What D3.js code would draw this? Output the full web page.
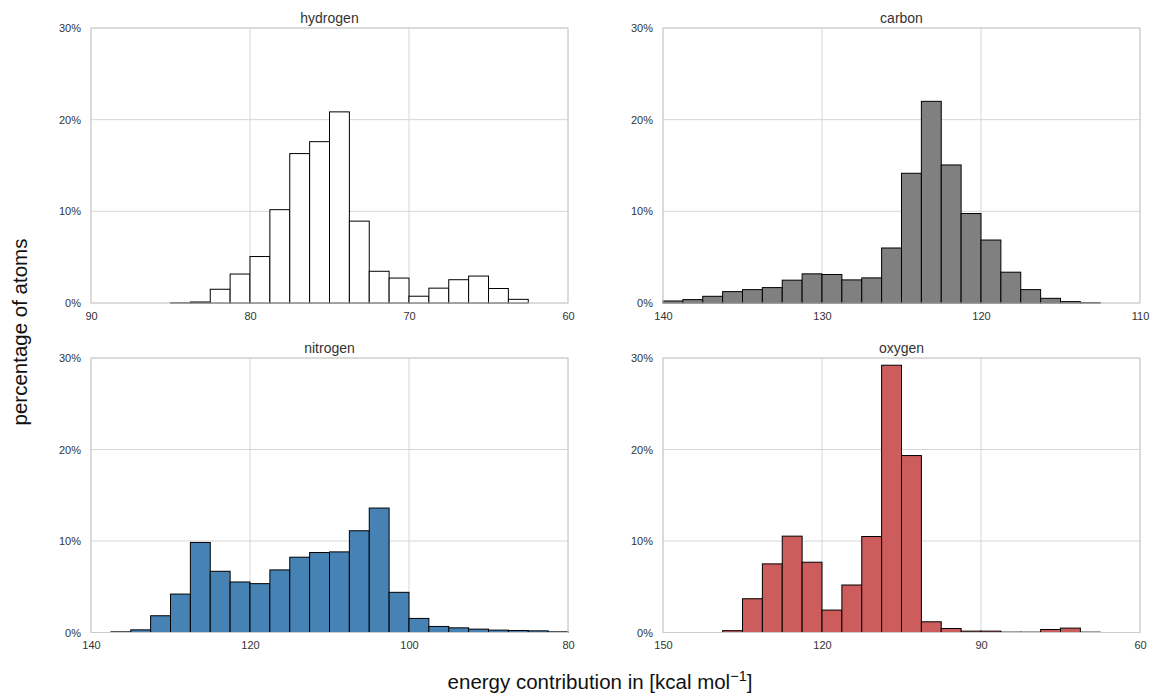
<!DOCTYPE html>
<html>
<head>
<meta charset="utf-8">
<script src="https://cdn.jsdelivr.net/npm/d3@7"></script>
<style>
  html, body { margin: 0; padding: 0; background: #fff; }
  svg { display: block; font-family: "Liberation Sans", Arial, Helvetica, sans-serif; }
</style>
</head>
<body>
<svg id="chart" width="1155" height="696"></svg>
<script>
// ---------- data ----------
const elements = ["hydrogen", "carbon", "nitrogen", "oxygen"];
const xDomains = [[90, 60], [140, 110], [140, 80], [150, 60]];
const xTickValues = [[90, 80, 70, 60], [140, 130, 120, 110], [140, 120, 100, 80], [150, 120, 90, 60]];
const yTickValues = [0, 10, 20, 30];
const binStarts = [85, 140, 137.5, 138.75];
const binWidths = [1.25, 1.25, 2.5, 3.75];

const hydrogenPct = [0.02, 0.11, 1.5, 3.16, 5.07, 10.18, 16.3, 17.6, 20.85, 8.93, 3.46, 2.72, 0.74, 1.62, 2.54, 2.94, 1.58, 0.40];
const carbonPct = [0.22, 0.37, 0.73, 1.24, 1.46, 1.68, 2.49, 3.18, 3.11, 2.52, 2.74, 6.0, 14.15, 22.0, 15.06, 9.76, 6.87, 3.36, 1.46, 0.51, 0.15, 0.03];
const nitrogenPct = [0.07, 0.29, 1.83, 4.2, 9.84, 6.69, 5.52, 5.34, 6.84, 8.23, 8.74, 8.81, 11.12, 13.6, 4.39, 1.54, 0.66, 0.51, 0.37, 0.26, 0.22, 0.18, 0.07];
const oxygenPct = [0.2, 3.69, 7.5, 10.53, 7.68, 2.45, 5.19, 10.49, 29.21, 19.34, 1.17, 0.44, 0.15, 0.15, 0.04, 0.04, 0.33, 0.48, 0.04];
const seriesPct = [hydrogenPct, carbonPct, nitrogenPct, oxygenPct];
const fillColors = ["#ffffff", "#808080", "#4682b4", "#cd5c5c"];

// ---------- layout ----------
const panelBoxes = [
  { x0: 91, x1: 568, y0: 28, y1: 303 },
  { x0: 663, x1: 1140, y0: 28, y1: 303 },
  { x0: 91, x1: 568, y0: 358, y1: 632.5 },
  { x0: 663, x1: 1140, y0: 358, y1: 632.5 }
];

const svg = d3.select("#chart");
const textColor = "#333333";

elements.forEach((name, i) => {
  const b = panelBoxes[i];
  const x = d3.scaleLinear().domain(xDomains[i]).range([b.x0, b.x1]);
  const y = d3.scaleLinear().domain([0, 30]).range([b.y1, b.y0]);
  const g = svg.append("g");

  // grid
  g.selectAll("line.vgrid").data(xTickValues[i]).join("line")
    .attr("x1", d => x(d)).attr("x2", d => x(d))
    .attr("y1", b.y0).attr("y2", b.y1)
    .attr("stroke", "#d6d6d6").attr("stroke-width", 1);
  g.selectAll("line.hgrid").data(yTickValues).join("line")
    .attr("x1", b.x0).attr("x2", b.x1)
    .attr("y1", d => y(d)).attr("y2", d => y(d))
    .attr("stroke", "#d6d6d6").attr("stroke-width", 1);

  // bars
  const bins = seriesPct[i].map((v, k) => ({
    hi: binStarts[i] - k * binWidths[i],
    lo: binStarts[i] - (k + 1) * binWidths[i],
    v
  }));
  g.selectAll("rect.bar").data(bins).join("rect")
    .attr("x", d => Math.min(x(d.hi), x(d.lo)))
    .attr("width", d => Math.abs(x(d.lo) - x(d.hi)))
    .attr("y", d => y(d.v))
    .attr("height", d => y(0) - y(d.v))
    .attr("fill", fillColors[i])
    .attr("stroke", "#000")
    .attr("stroke-width", 1);

  // frame
  g.append("rect")
    .attr("x", b.x0).attr("y", b.y0)
    .attr("width", b.x1 - b.x0).attr("height", b.y1 - b.y0)
    .attr("fill", "none").attr("stroke", "#cccccc").attr("stroke-width", 1);

  // axes
  const xa = g.append("g").attr("transform", `translate(0,${b.y1})`)
    .call(d3.axisBottom(x).tickValues(xTickValues[i]).tickSize(0).tickPadding(9).tickFormat(d3.format("d")));
  xa.select(".domain").remove();
  xa.selectAll("text").attr("fill", textColor).style("font-size", "11px")
    .style("font-family", '"Liberation Sans", Arial, sans-serif');

  const ya = g.append("g").attr("transform", `translate(${b.x0},0)`)
    .call(d3.axisLeft(y).tickValues(yTickValues).tickSize(0).tickPadding(10).tickFormat(d => d + "%"));
  ya.select(".domain").remove();
  ya.selectAll("text").attr("fill", textColor).style("font-size", "11px")
    .style("font-family", '"Liberation Sans", Arial, sans-serif');

  // title
  g.append("text")
    .attr("x", (b.x0 + b.x1) / 2).attr("y", b.y0 - 5)
    .attr("text-anchor", "middle")
    .attr("fill", textColor)
    .style("font-size", "14px")
    .text(name);
});

// axis labels
const xl = svg.append("text")
  .attr("x", 600).attr("y", 689)
  .attr("text-anchor", "middle")
  .attr("fill", "#111")
  .style("font-size", "20.5px");
xl.append("tspan").text("energy contribution in [kcal mol");
xl.append("tspan").attr("dy", -8).style("font-size", "14.5px").text("\u22121");
xl.append("tspan").attr("dy", 8).text("]");

svg.append("text")
  .attr("transform", "translate(27,332) rotate(-90)")
  .attr("text-anchor", "middle")
  .attr("fill", "#111")
  .style("font-size", "20.5px")
  .text("percentage of atoms");
</script>
</body>
</html>
